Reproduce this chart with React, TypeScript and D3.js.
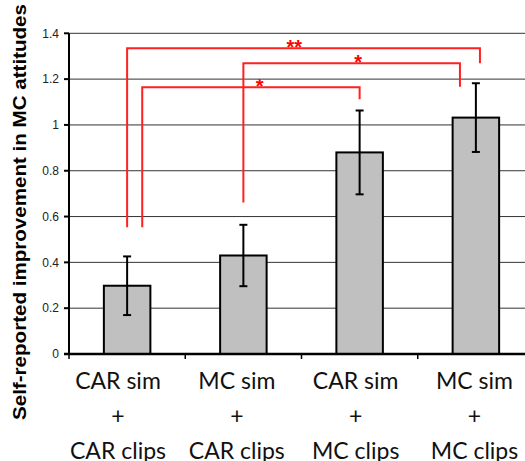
import * as d3 from "d3";
import React from "react";

// conditions and their measured means / error half-widths
const categories = ["A", "B", "C", "D"];
const simLabels = ["CAR sim", "MC sim", "CAR sim", "MC sim"];
const clipLabels = ["CAR clips", "CAR clips", "MC clips", "MC clips"];
const means = [0.298, 0.43, 0.88, 1.032];
const errors = [0.128, 0.134, 0.183, 0.15];
const yTicks = [0, 0.2, 0.4, 0.6, 0.8, 1, 1.2, 1.4];

// significance brackets: from/to category index, y levels of the ends and the bar
const brFrom = [0, 1, 0];
const brTo = [2, 3, 3];
const brFromShift = [0.13, 0, 0];
const brToShift = [0, -0.137, 0.035];
const brLeftEnd = [0.553, 0.661, 0.553];
const brTop = [1.165, 1.269, 1.335];
const brRightEnd = [1.112, 1.167, 1.269];
const brLabel = ["*", "*", "**"];
const brLabelPos = [0.54, 0.53, 0.474];

const W = 525;
const H = 461;

export default function App() {
  const x = d3
    .scaleBand<string>()
    .domain(categories)
    .range([69, 534])
    .paddingInner(0.6)
    .paddingOuter(0.3);
  const y = d3.scaleLinear().domain([0, 1.4]).range([354, 33.3]);
  const labelX = d3.scalePoint<string>().domain(categories).range([118, 474.5]);
  const cx = (i: number) => (x(categories[i]) as number) + x.bandwidth() / 2;
  const step = x.step();
  const x0 = x.range()[0];

  return (
    <svg
      width={W}
      height={H}
      style={{ position: "absolute", left: 0, top: 0, background: "#fff" }}
    >
      {/* gridlines */}
      {yTicks.slice(1).map((t) => (
        <line key={t} x1={x0} x2={W} y1={y(t)} y2={y(t)} stroke="#333" strokeWidth={1} />
      ))}
      {/* y ticks + labels */}
      {yTicks.map((t) => (
        <g key={"t" + t}>
          <line x1={x0 - 5} x2={x0} y1={y(t)} y2={y(t)} stroke="#000" strokeWidth={2} />
          <text
            x={x0 - 10}
            y={y(t)}
            dy="0.35em"
            textAnchor="end"
            fontFamily="Liberation Sans, Arial, sans-serif"
            fontSize={12}
            fill="#222"
          >
            {d3.format("")(t)}
          </text>
        </g>
      ))}
      {/* bars */}
      {means.map((m, i) => (
        <rect
          key={"b" + i}
          x={x(categories[i])}
          y={y(m)}
          width={x.bandwidth()}
          height={y(0) - y(m)}
          fill="#c0c0c0"
          stroke="#000"
          strokeWidth={2}
        />
      ))}
      {/* error bars */}
      {means.map((m, i) => {
        const c = cx(i);
        return (
          <g key={"e" + i} stroke="#000" strokeWidth={2}>
            <line x1={c} x2={c} y1={y(m + errors[i])} y2={y(m - errors[i])} />
            <line x1={c - 4} x2={c + 4} y1={y(m + errors[i])} y2={y(m + errors[i])} />
            <line x1={c - 4} x2={c + 4} y1={y(m - errors[i])} y2={y(m - errors[i])} />
          </g>
        );
      })}
      {/* axes */}
      <line x1={x0} x2={x0} y1={y(1.4)} y2={y(0)} stroke="#000" strokeWidth={2} />
      <line x1={x0 - 5} x2={W} y1={y(0)} y2={y(0)} stroke="#000" strokeWidth={2.5} />
      {categories.map((c, i) => (
        <line
          key={"xt" + c}
          x1={x0 + step * i}
          x2={x0 + step * i}
          y1={y(0)}
          y2={y(0) + 5}
          stroke="#000"
          strokeWidth={1.5}
        />
      ))}
      {/* significance brackets */}
      {brFrom.map((f, i) => {
        const xa = cx(f) + brFromShift[i] * step;
        const xb = cx(brTo[i]) + brToShift[i] * step;
        const yt = y(brTop[i]);
        const sx = xa + (xb - xa) * brLabelPos[i];
        return (
          <g key={"br" + i}>
            <path
              d={`M${xa},${y(brLeftEnd[i])}V${yt}H${xb}V${y(brRightEnd[i])}`}
              fill="none"
              stroke="#ff2020"
              strokeWidth={2}
            />
            <text
              x={sx}
              y={yt + 6}
              textAnchor="middle"
              fontFamily="Liberation Sans, Arial, sans-serif"
              fontWeight="bold"
              fontSize={20}
              fill="#ff0000"
            >
              {brLabel[i]}
            </text>
          </g>
        );
      })}
      {/* category labels */}
      {categories.map((c, i) => (
        <g
          key={"l" + c}
          fontFamily="Lato, Carlito, Calibri, sans-serif"
          fontSize={23}
          fill="#111"
          textAnchor="middle"
        >
          <text x={labelX(c)} y={389}>{simLabels[i]}</text>
          <text x={labelX(c)} y={424}>+</text>
          <text x={labelX(c)} y={459}>{clipLabels[i]}</text>
        </g>
      ))}
      {/* y axis title */}
      <text
        transform={`translate(26,${212}) rotate(-90)`}
        textAnchor="middle"
        fontFamily="Liberation Sans, Arial, sans-serif"
        fontWeight="bold"
        fontSize={19}
        textLength={416}
        lengthAdjust="spacingAndGlyphs"
        fill="#000"
      >
        Self-reported improvement in MC attitudes
      </text>
    </svg>
  );
}
